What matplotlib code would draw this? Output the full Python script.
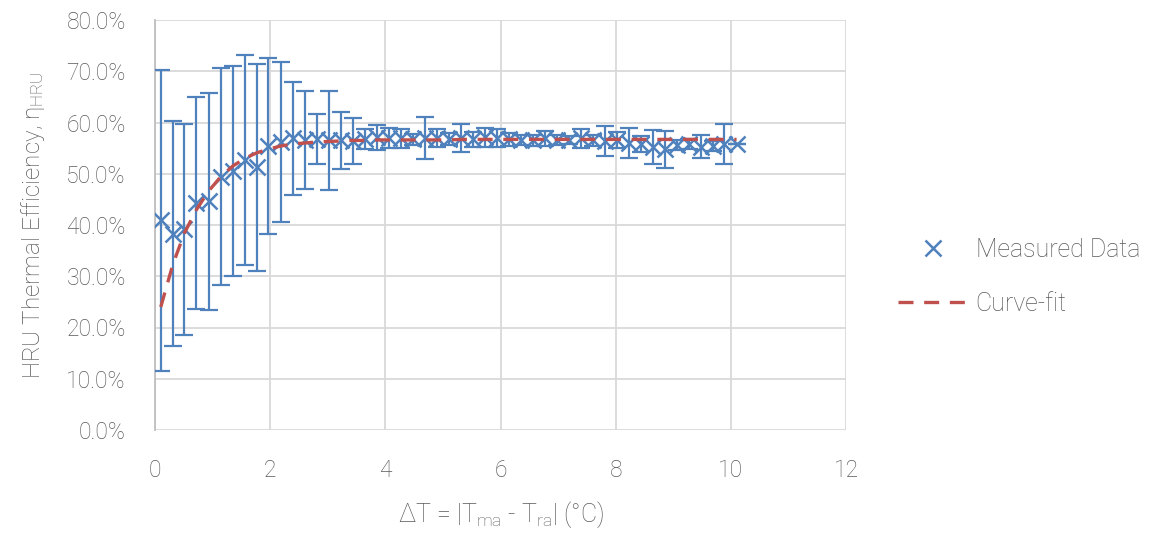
import matplotlib
matplotlib.use("Agg")
import matplotlib.pyplot as plt
from matplotlib.ticker import FuncFormatter

# ---- data ----
delta_t = [0.10, 0.31, 0.51, 0.72, 0.93, 1.14, 1.35, 1.56, 1.77, 1.97,
           2.18, 2.39, 2.60, 2.81, 3.02, 3.23, 3.43, 3.64, 3.85, 4.06,
           4.27, 4.48, 4.69, 4.89, 5.10, 5.31, 5.52, 5.73, 5.94, 6.14,
           6.35, 6.56, 6.77, 6.98, 7.19, 7.39, 7.60, 7.81, 8.02, 8.23,
           8.44, 8.64, 8.85, 9.06, 9.27, 9.48, 9.69, 9.89, 10.10]

measured = [40.9, 38.3, 39.2, 44.3, 44.6, 49.4, 50.6, 52.7, 51.3, 55.4,
            56.2, 56.9, 56.6, 56.8, 56.5, 56.5, 56.4, 56.8, 57.1, 57.0,
            56.9, 56.7, 56.9, 57.0, 56.8, 57.0, 56.7, 57.1, 57.0, 56.7,
            56.6, 56.5, 56.9, 56.6, 56.6, 56.9, 56.5, 56.4, 56.6, 56.0,
            55.8, 55.2, 54.8, 55.6, 55.8, 55.3, 55.4, 55.8, 55.9]

error = [29.3, 21.9, 20.6, 20.6, 21.2, 21.2, 20.5, 20.5, 20.2, 17.2,
         15.7, 11.0, 9.5, 4.9, 9.7, 5.5, 4.4, 1.9, 2.4, 2.0,
         1.8, 1.0, 4.1, 1.7, 1.2, 2.8, 1.5, 1.8, 1.7, 1.3,
         1.0, 1.0, 1.5, 1.0, 0.8, 1.8, 1.0, 3.0, 1.5, 3.0,
         1.5, 3.3, 3.6, 1.0, 1.0, 2.2, 1.0, 3.9, 0.0]

curve_fit = [24.0, 32.3, 38.4, 43.0, 46.6, 49.4, 51.5, 53.0, 54.1, 54.8,
             55.4, 55.8, 56.0, 56.2, 56.3, 56.4, 56.5, 56.5, 56.6, 56.6,
             56.6, 56.6, 56.6, 56.6, 56.6, 56.7, 56.7, 56.7, 56.7, 56.7,
             56.7, 56.7, 56.7, 56.7, 56.7, 56.7, 56.7, 56.7, 56.7, 56.7,
             56.7, 56.7, 56.7, 56.7, 56.7, 56.7, 56.7, 56.7, 56.7]

x_ticks = [0, 2, 4, 6, 8, 10, 12]
y_ticks = [0, 10, 20, 30, 40, 50, 60, 70, 80]

# ---- style ----
plt.rcParams['font.family'] = ['Roboto', 'DejaVu Sans']
plt.rcParams['font.weight'] = 'light'
plt.rcParams['axes.labelweight'] = 'light'
plt.rcParams['mathtext.default'] = 'regular'
TXT = '#595959'
BLUE = '#4F81BD'
RED = '#C0504D'
GRID = '#d9d9d9'

fig = plt.figure(figsize=(11.58, 5.33), dpi=100)
ax = fig.add_axes([155/1158, 1 - 430/533, (846-155)/1158, (430-20)/533])

ax.errorbar(delta_t, measured, yerr=error, fmt='none', ecolor=BLUE,
            elinewidth=1.6, capsize=6.5, capthick=1.6, zorder=3)
ax.plot(delta_t, measured, linestyle='none', marker='x', markersize=11,
        markeredgewidth=1.8, color=BLUE, label='Measured Data', zorder=4)
ax.plot(delta_t, curve_fit, color=RED, linewidth=2.4,
        linestyle=(0, (4.5, 3.2)), label='Curve-fit', zorder=5)

ax.set_xlim(0, 12)
ax.set_ylim(0, 80)
ax.set_xticks(x_ticks)
ax.set_yticks(y_ticks)
ax.yaxis.set_major_formatter(FuncFormatter(lambda v, p: f"{v:.1f}%"))
ax.grid(True, color=GRID, linewidth=1.3, zorder=0)
ax.set_axisbelow(True)
for s in ['top', 'right', 'bottom']:
    ax.spines[s].set_visible(False)
ax.spines['left'].set_color('#bfbfbf')
ax.spines['left'].set_linewidth(1.3)
ax.tick_params(axis='both', length=0, labelsize=16.5, colors=TXT)
ax.tick_params(axis='y', pad=21)
ax.tick_params(axis='x', pad=21)
for lbl in ax.get_xticklabels() + ax.get_yticklabels():
    lbl.set_fontweight('light')

ax.set_ylabel('HRU Thermal Efficiency, η$_{HRU}$', fontsize=17.5, color=TXT,
              labelpad=14, fontweight='light')
ax.set_xlabel('ΔT = |T$_{ma}$ - T$_{ra}$| (°C)', fontsize=18, color=TXT,
              labelpad=12, fontweight='light')

leg = fig.legend(loc='center left', bbox_to_anchor=(898/1158, 1 - 277/533),
                 frameon=False, fontsize=18, handlelength=2.8,
                 handletextpad=0.3, labelspacing=1.2, borderpad=0,
                 borderaxespad=0)
for t in leg.get_texts():
    t.set_color(TXT)
    t.set_fontweight('light')

fig.savefig('out.png', dpi=100)
